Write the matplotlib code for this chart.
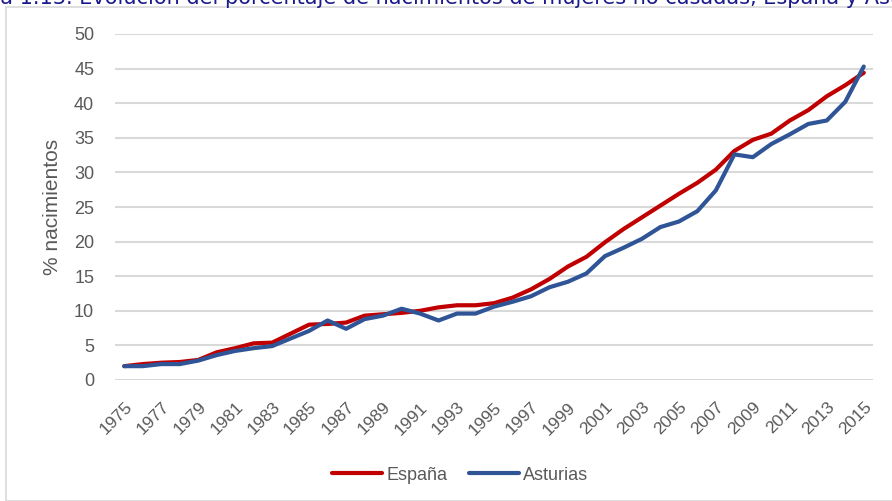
import numpy as np
import matplotlib.pyplot as plt
from matplotlib.patches import Rectangle

years=list(range(1975,2016))
espana=[2.0,2.3,2.5,2.6,2.9,4.0,4.6,5.3,5.4,6.7,8.0,8.1,8.3,9.3,9.5,9.7,10.0,10.5,10.8,10.8,11.1,11.9,13.1,14.6,16.4,17.8,19.9,21.8,23.5,25.2,26.9,28.5,30.4,33.1,34.7,35.6,37.5,39.0,41.0,42.6,44.4]
asturias=[2.0,2.0,2.3,2.3,2.8,3.6,4.2,4.6,4.9,6.0,7.1,8.6,7.4,8.8,9.3,10.3,9.6,8.6,9.6,9.6,10.6,11.3,12.1,13.4,14.2,15.4,17.9,19.1,20.4,22.1,22.9,24.4,27.4,32.6,32.2,34.1,35.5,37.0,37.5,40.2,45.3]
xlabels=[str(y) if (y-1975)%2==0 else '' for y in years]
title='Gráfica 1.13. Evolución del porcentaje de nacimientos de mujeres no casadas, España y Asturias'

grey='#595959'
font='Liberation Sans'
fig=plt.figure(figsize=(8.92,5.01),dpi=100)
fig.patches.append(Rectangle((6/892,0),1.0,1-7/501,transform=fig.transFigure,fill=False,edgecolor='#d9d9d9',linewidth=1.2))

# title cut off at top of picture
prefix=fig.text(0,0,'Gráfic',fontsize=15,family='DejaVu Sans')
w=prefix.get_window_extent(renderer=fig.canvas.get_renderer()).width
prefix.remove()
fig.text(-w/892,1-4/501,title,fontsize=15,family='DejaVu Sans',color='#1a1a8c',va='baseline',ha='left')

ax=fig.add_axes([115/892,1-380/501,(873-115)/892,(380-34)/501])
x=np.arange(len(years))
ax.plot(x,espana,color='#c00000',linewidth=3,label='España',solid_capstyle='round')
ax.plot(x,asturias,color='#2f5597',linewidth=3,label='Asturias',solid_capstyle='round')
ax.set_xlim(-0.5,len(years)-0.5)
ax.set_ylim(0,50)
ax.set_yticks(np.arange(0,51,5))
ax.grid(axis='y',color='#d9d9d9',linewidth=1.5)
ax.set_axisbelow(True)
for s in ax.spines.values():
    s.set_visible(False)
ax.tick_params(length=0,labelsize=13,labelcolor=grey)
ax.tick_params(axis='y',pad=15)
ax.tick_params(axis='x',pad=14,labelsize=12.5)
ax.set_xticks(x)
ax.set_xticklabels(xlabels,rotation=45,ha='right',va='top',rotation_mode='anchor',family=font)
for t in ax.get_yticklabels():
    t.set_family(font)
ax.set_ylabel('% nacimientos',fontsize=15,color=grey,family=font)
ax.yaxis.set_label_coords((62-115)/758,0.5)
leg=ax.legend(loc='center',bbox_to_anchor=((460-115)/758,-(475-380)/346),ncol=2,frameon=False,handlelength=2.8,handletextpad=0.2,columnspacing=1.2,prop={'family':font,'size':13})
for t in leg.get_texts():
    t.set_color(grey)
fig.savefig('out.png',dpi=100)
